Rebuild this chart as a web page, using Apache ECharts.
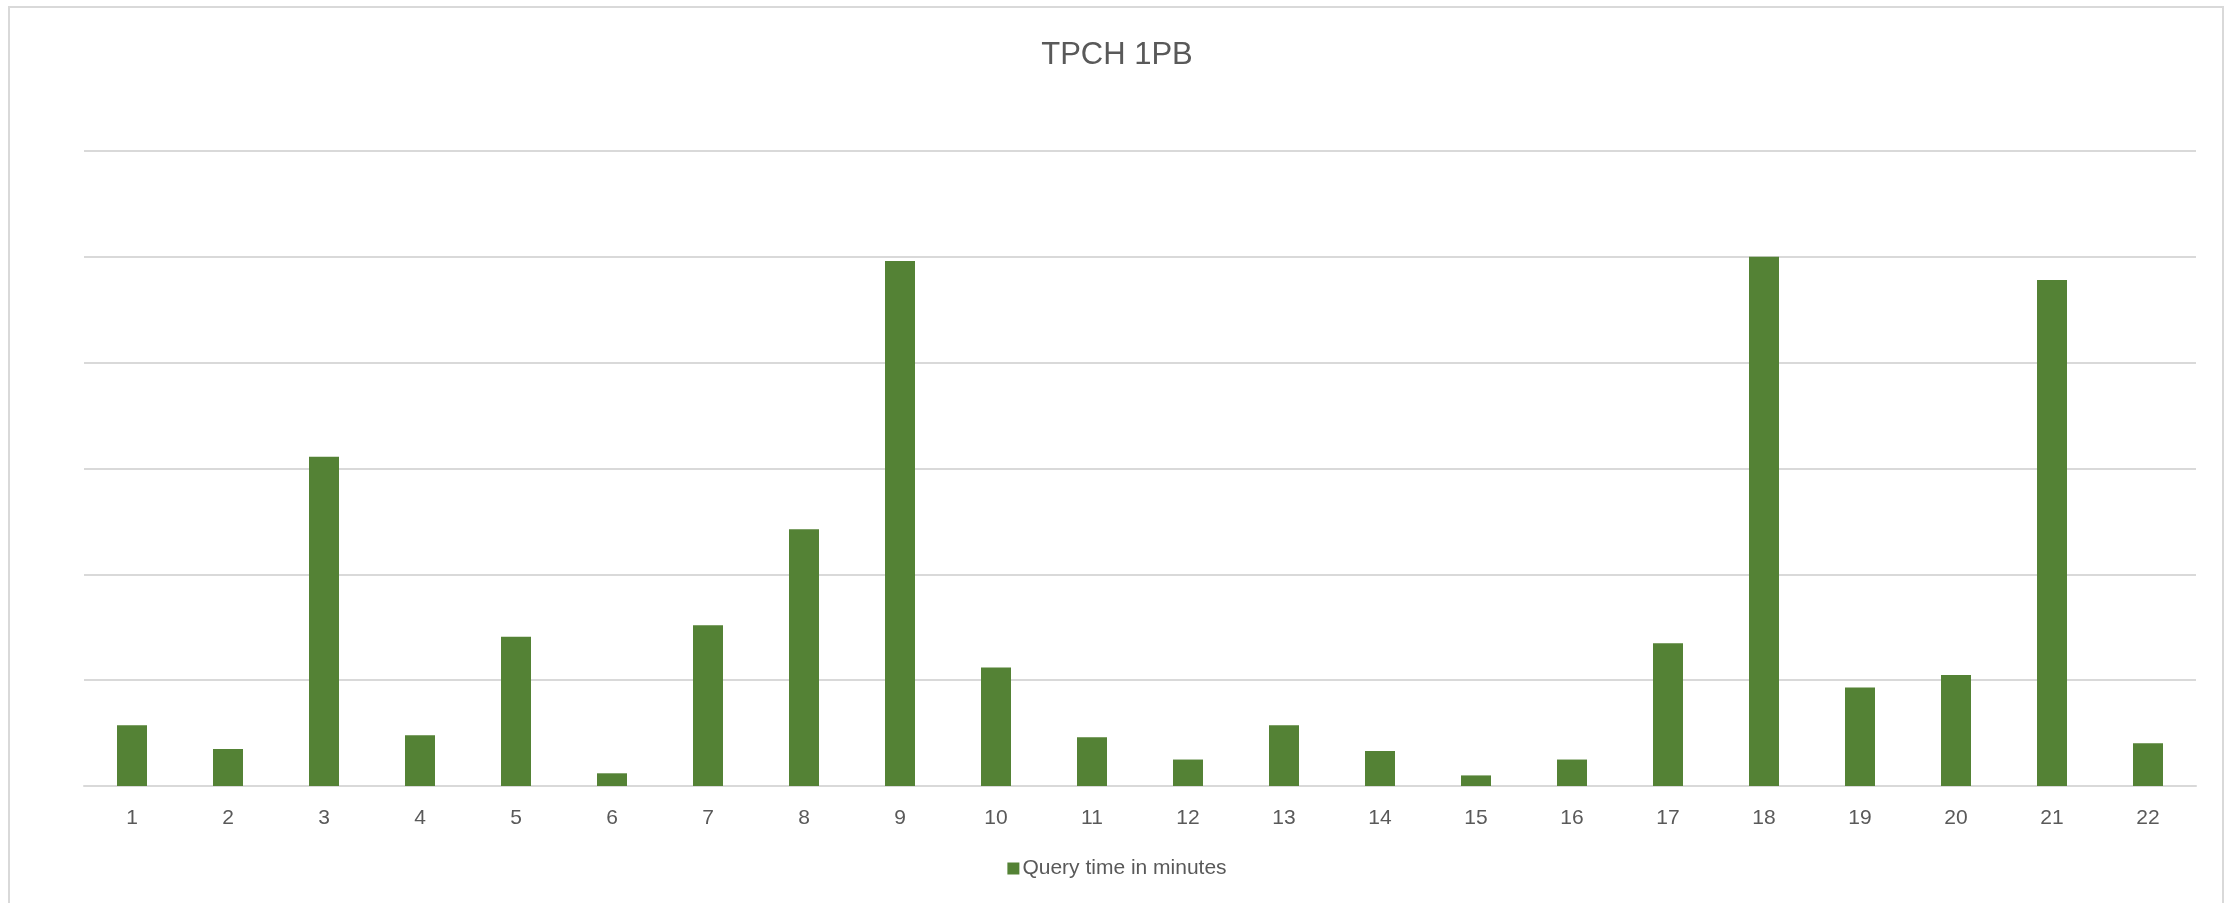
<!DOCTYPE html>
<html>
<head>
<meta charset="utf-8">
<script src="https://cdn.jsdelivr.net/npm/echarts@6/dist/echarts.min.js"></script>
<style>html,body{margin:0;padding:0;background:#fff;}#c{width:2234px;height:903px;}</style>
</head>
<body>
<div id="c"></div>
<script>
const categories = ['1','2','3','4','5','6','7','8','9','10','11','12','13','14','15','16','17','18','19','20','21','22'];
const queryMinutes = [5.75, 3.5, 31.1, 4.8, 14.1, 1.2, 15.2, 24.25, 49.6, 11.2, 4.6, 2.5, 5.75, 3.3, 1.0, 2.5, 13.5, 50.0, 9.3, 10.5, 47.8, 4.05];
const seriesName = 'Query time in minutes';
const chartTitle = 'TPCH 1PB';

const chart = echarts.init(document.getElementById('c'));
const FONT = '"Liberation Sans", Arial, sans-serif';
chart.setOption({
  backgroundColor: '#ffffff',
  animation: false,
  title: {
    text: chartTitle,
    left: 'center',
    top: 35,
    textStyle: { fontFamily: FONT, fontSize: 31, fontWeight: 'normal', color: '#595959' }
  },
  legend: {
    data: [seriesName],
    left: 'center',
    top: 853,
    icon: 'rect',
    itemWidth: 12,
    itemHeight: 12,
    itemGap: 5,
    textStyle: { fontFamily: FONT, fontSize: 21, color: '#595959', padding: [0, 0, 0, -2] }
  },
  grid: { left: 84, right: 38, top: 151, bottom: 117, containLabel: false },
  xAxis: {
    type: 'category',
    data: categories,
    axisLine: { show: true, lineStyle: { color: '#d9d9d9', width: 2 } },
    axisTick: { show: false },
    axisLabel: { fontFamily: FONT, fontSize: 21, color: '#595959', margin: 22 }
  },
  yAxis: {
    type: 'value',
    min: 0,
    max: 60,
    interval: 10,
    axisLabel: { show: false },
    axisLine: { show: false },
    axisTick: { show: false },
    splitLine: { show: true, lineStyle: { color: '#d9d9d9', width: 2 } }
  },
  series: [{
    name: seriesName,
    type: 'bar',
    data: queryMinutes,
    barWidth: 30,
    itemStyle: { color: '#548235' }
  }],
  graphic: [{
    type: 'rect',
    shape: { x: 9, y: 7, width: 2214, height: 900 },
    style: { fill: 'none', stroke: '#d9d9d9', lineWidth: 2 },
    silent: true,
    z: -1
  }]
});
</script>
</body>
</html>
